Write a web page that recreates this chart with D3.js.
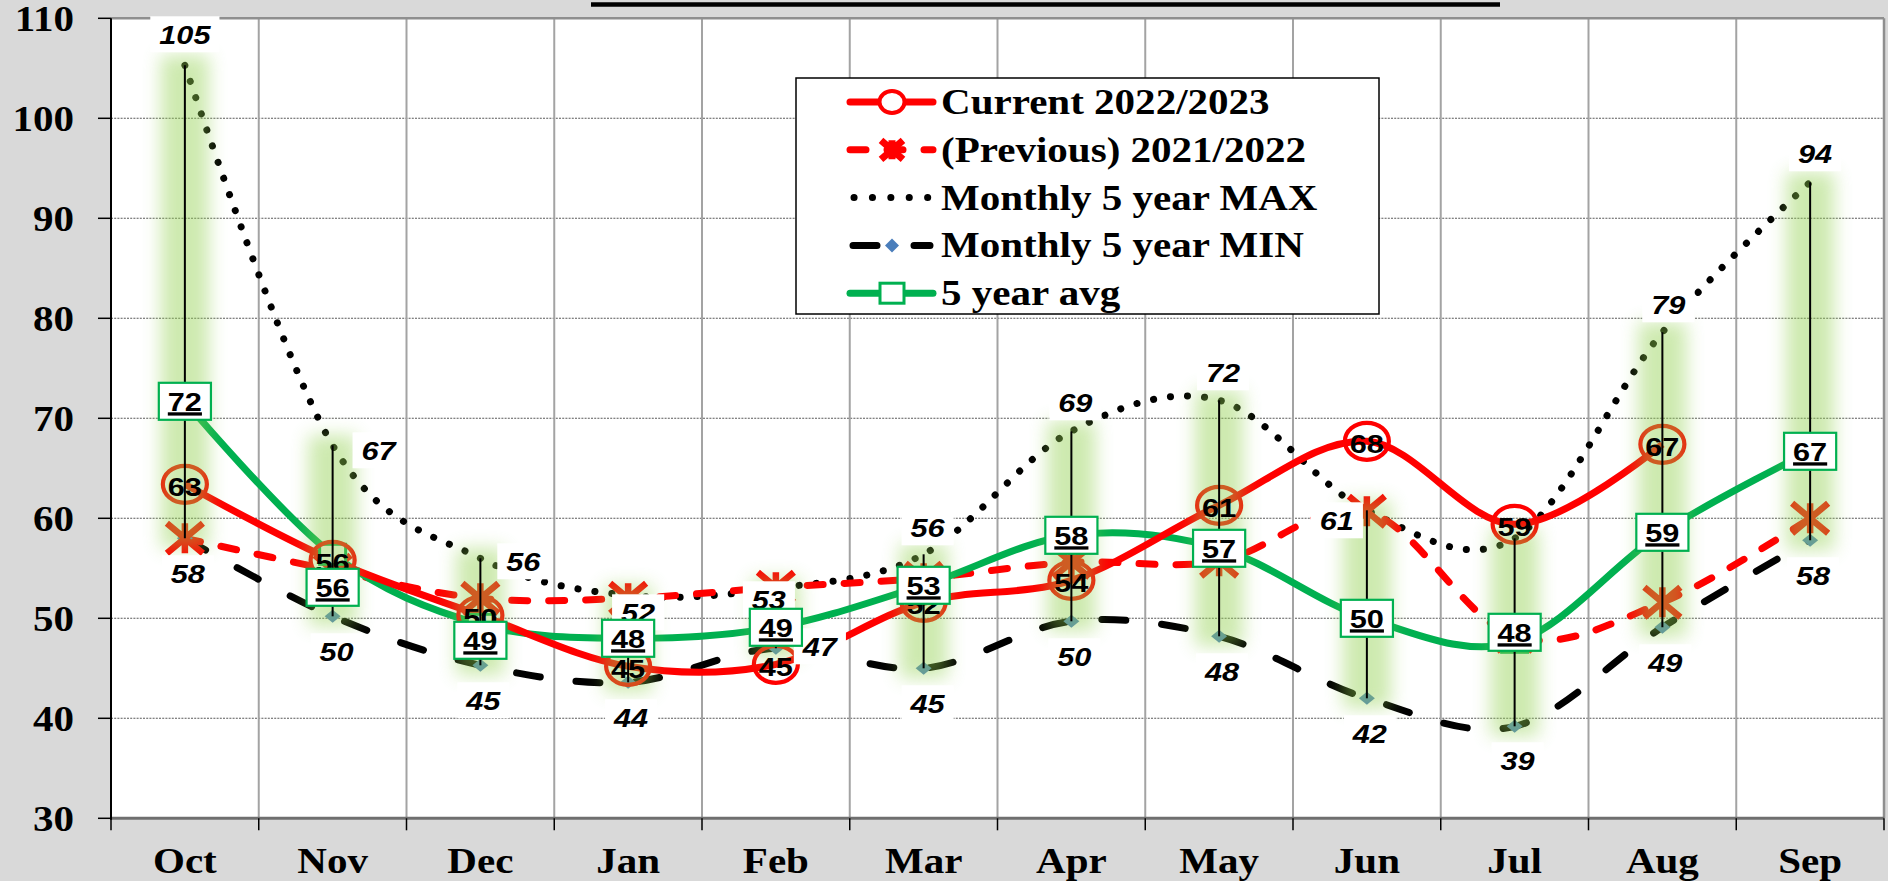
<!DOCTYPE html>
<html><head><meta charset="utf-8">
<script src="https://cdn.jsdelivr.net/npm/d3@7"></script>
<style>
html,body{margin:0;padding:0;background:#d9d9d9;overflow:hidden;}
svg{display:block;}
</style></head><body>
<svg id="chart" width="1888" height="881"></svg>
<script>
// ---------------- data ----------------
const months   = ["Oct","Nov","Dec","Jan","Feb","Mar","Apr","May","Jun","Jul","Aug","Sep"];
const current  = [63.4,55.8,50.3,45.2,45.4,51.6,53.8,61.3,67.7,59.4,67.4,null];
const previous = [58.0,54.8,52.0,52.0,53.1,54.0,55.6,55.7,60.7,48.2,51.6,60.0];
const max5     = [105.3,67.3,56.0,52.3,53.0,56.4,68.7,71.8,60.8,58.0,78.6,93.6];
const min5     = [58.0,50.2,45.3,43.6,47.0,45.0,49.7,48.2,42.0,39.2,49.1,57.8];
const avg5     = [71.7,56.4,49.4,48.0,49.1,53.3,58.3,57.0,50.0,47.6,58.6,66.7];
const yTicks   = [30,40,50,60,70,80,90,100,110];
const legendNames = ["Current 2022/2023","(Previous) 2021/2022","Monthly 5 year MAX","Monthly 5 year MIN","5 year avg"];

// ---------------- label placement (layout, not data) ----------------
const maxLabelOffset = [[0,-31],[46,5],[43,3],[10,17],[-7,11],[4,-27],[4,-29],[4,-28],[-30,10],null,[6,-28],[5,-29]];
const minLabelOffset = [[3,35],[4,35],[3,35],[3,35],[44,-2],[4,35],[3,35],[3,35],[3,35],[3,34],[3,35],[3,35]];
const avgLabelOffset = [0,33,16,0,0,0,0,0,0,-10,0,0];

// ---------------- setup ----------------
const W = 1888, H = 881;
const plot = {left:111, right:1884, top:18.3, bottom:818.3};
const svg = d3.select("#chart");
const SERIF = "'Liberation Serif','Times New Roman',serif";
const SANS = "'Liberation Sans',Arial,sans-serif";
const SX = 1.14;   // horizontal stretch of serif text
const SL = 1.18;   // horizontal stretch of label text

const x = d3.scaleBand().domain(months).range([plot.left, plot.right]).padding(0);
const cx = m => x(m) + x.bandwidth()/2;
const y = d3.scaleLinear().domain([30,110]).range([plot.bottom, plot.top]);

const defs = svg.append("defs");
defs.append("filter").attr("id","glow").attr("filterUnits","userSpaceOnUse")
  .attr("x",0).attr("y",0).attr("width",W).attr("height",H)
  .append("feGaussianBlur").attr("stdDeviation",9);

svg.append("rect").attr("width",W).attr("height",H).attr("fill","#d9d9d9");
svg.append("rect").attr("x",plot.left).attr("y",plot.top)
  .attr("width",plot.right-plot.left).attr("height",plot.bottom-plot.top).attr("fill","#ffffff");

// title underline (title text itself is cropped off the top of the picture)
svg.append("line").attr("x1",591).attr("x2",1500).attr("y1",4.5).attr("y2",4.5)
  .attr("stroke","#000").attr("stroke-width",4.5);

// grid
const grid = svg.append("g");
grid.selectAll(".hg").data(yTicks.filter(t => t>30 && t<110)).join("line")
  .attr("x1",plot.left).attr("x2",plot.right).attr("y1",d=>y(d)).attr("y2",d=>y(d))
  .attr("stroke","#5a5a5a").attr("stroke-width",1.1).attr("stroke-dasharray","2 1.2");
grid.selectAll(".vg").data(months.slice(1)).join("line")
  .attr("x1",d=>x(d)).attr("x2",d=>x(d)).attr("y1",plot.top).attr("y2",plot.bottom)
  .attr("stroke","#a3a3a3").attr("stroke-width",2);
grid.append("line").attr("x1",plot.left).attr("x2",plot.right).attr("y1",plot.top).attr("y2",plot.top)
  .attr("stroke","#8f8f8f").attr("stroke-width",2.5);
grid.append("line").attr("x1",plot.right).attr("x2",plot.right).attr("y1",plot.top).attr("y2",plot.bottom)
  .attr("stroke","#8f8f8f").attr("stroke-width",2.5);

// axes
const axG = svg.append("g");
axG.append("line").attr("x1",plot.left).attr("x2",plot.right).attr("y1",plot.bottom).attr("y2",plot.bottom)
  .attr("stroke","#6f6f6f").attr("stroke-width",3);
axG.append("line").attr("x1",plot.left).attr("x2",plot.left).attr("y1",plot.top).attr("y2",plot.bottom+1.5)
  .attr("stroke","#000").attr("stroke-width",2);
axG.selectAll(".yt").data(yTicks).join("line")
  .attr("x1",98).attr("x2",plot.left).attr("y1",d=>y(d)).attr("y2",d=>y(d))
  .attr("stroke","#000").attr("stroke-width",1.5);
axG.selectAll(".ytl").data(yTicks).join("text")
  .attr("transform",d=>`translate(74,${y(d)}) scale(${SX},1)`)
  .attr("text-anchor","end").attr("dy","0.34em")
  .attr("font-family",SERIF).attr("font-weight","bold").attr("font-size",36).attr("fill","#000")
  .text(d=>d);
const xTickPos = months.map(m => x(m)).concat([plot.right]);
axG.selectAll(".xt").data(xTickPos).join("line")
  .attr("x1",d=>d).attr("x2",d=>d).attr("y1",plot.bottom).attr("y2",plot.bottom+12)
  .attr("stroke","#000").attr("stroke-width",1.5);
axG.selectAll(".xtl").data(months).join("text")
  .attr("transform",d=>`translate(${cx(d)},873) scale(${SX},1)`)
  .attr("text-anchor","middle")
  .attr("font-family",SERIF).attr("font-weight","bold").attr("font-size",36).attr("fill","#000")
  .text(d=>d);

// ---------------- series lines ----------------
const curve = d3.curveCardinal.tension(0);
const lineGen = arr => d3.line().defined((d,i)=>arr[i]!=null)
  .x((d,i)=>cx(months[i])).y((d,i)=>y(arr[i])).curve(curve)(arr);

const lines = svg.append("g").attr("fill","none");
lines.append("path").attr("d",lineGen(max5)).attr("stroke","#000").attr("stroke-width",7)
  .attr("stroke-linecap","round").attr("stroke-dasharray","0.1 17");
lines.append("path").attr("d",lineGen(min5)).attr("stroke","#000").attr("stroke-width",7)
  .attr("stroke-linecap","round").attr("stroke-dasharray","24 36");
lines.append("path").attr("d",lineGen(previous)).attr("stroke","#ff0000").attr("stroke-width",7)
  .attr("stroke-linecap","round").attr("stroke-dasharray","16 21");
lines.append("path").attr("d",lineGen(avg5)).attr("stroke","#00b050").attr("stroke-width",7);
lines.append("path").attr("d",lineGen(current)).attr("stroke","#ff0000").attr("stroke-width",7);

// ---------------- markers ----------------
const mk = svg.append("g");
const diamond = "M0,-6.5 L8,0 L0,6.5 L-8,0 Z";
const star = (hx,hy) => `M${-hx},${-hy} L${hx},${hy} M${-hx},${hy} L${hx},${-hy} M0,${-hy} L0,${hy}`;
mk.selectAll(".mn").data(months).join("path")
  .attr("transform",(m,i)=>`translate(${cx(m)},${y(min5[i])})`)
  .attr("d",diamond).attr("fill","#4f81bd");
mk.selectAll(".pv").data(months).join("path")
  .attr("transform",(m,i)=>`translate(${cx(m)},${y(previous[i])})`)
  .attr("d",star(18,15)).attr("fill","none").attr("stroke","#ff0000").attr("stroke-width",6.5);
mk.selectAll(".av").data(months).join("rect")
  .attr("x",(m)=>cx(m)-13).attr("y",(m,i)=>y(avg5[i])-10).attr("width",26).attr("height",20)
  .attr("fill","#fff").attr("stroke","#00b050").attr("stroke-width",3);
mk.selectAll(".cu").data(months.filter((m,i)=>current[i]!=null)).join("ellipse")
  .attr("cx",m=>cx(m)).attr("cy",(m)=>y(current[months.indexOf(m)]))
  .attr("rx",22).attr("ry",18.5).attr("fill","none").attr("stroke","#ff0000").attr("stroke-width",4.2);

// ---------------- glow & high-low lines ----------------
svg.append("g").attr("filter","url(#glow)").attr("opacity",0.45)
  .selectAll("line").data(months).join("line")
  .attr("x1",m=>cx(m)).attr("x2",m=>cx(m))
  .attr("y1",(m,i)=>y(max5[i])-10).attr("y2",(m,i)=>y(min5[i])+10)
  .attr("stroke","#92d050").attr("stroke-width",48);
svg.append("g").selectAll("line").data(months).join("line")
  .attr("x1",m=>cx(m)).attr("x2",m=>cx(m))
  .attr("y1",(m,i)=>y(max5[i])).attr("y2",(m,i)=>y(min5[i]))
  .attr("stroke","#000").attr("stroke-width",2);

// ---------------- data labels ----------------
const labels = svg.append("g");
function addLabel(px, py, txt, kind) {
  const g = labels.append("g").attr("transform",`translate(${px},${py})`);
  const r = g.append("rect");
  const t = g.append("text").text(txt)
    .attr("text-anchor","middle").attr("dy","0.36em").attr("transform",`scale(${SL},1)`)
    .attr("font-family",SANS).attr("font-weight","bold").attr("font-size",26).attr("fill","#000")
    .attr("font-style", kind==="mm" ? "italic" : "normal");
  const w = t.node().getComputedTextLength()*SL;
  if (kind==="mm") {
    r.attr("x",-w/2-9).attr("y",-18).attr("width",w+18).attr("height",36).attr("fill","#fff");
  } else if (kind==="avg") {
    r.attr("x",-w/2-9).attr("y",-18.5).attr("width",w+18).attr("height",37)
      .attr("fill","#fff").attr("stroke","#00b050").attr("stroke-width",2.2);
    g.append("rect").attr("x",-w/2).attr("y",11).attr("width",w).attr("height",3.3).attr("fill","#000");
  } else {
    r.remove();
  }
}
const fmt = d3.format(".0f");
months.forEach((m,i)=>{
  if (maxLabelOffset[i]) addLabel(cx(m)+maxLabelOffset[i][0], y(max5[i])+maxLabelOffset[i][1], fmt(max5[i]), "mm");
  addLabel(cx(m)+minLabelOffset[i][0], y(min5[i])+minLabelOffset[i][1], fmt(min5[i]), "mm");
});
months.forEach((m,i)=>{
  if (current[i]!=null) addLabel(cx(m), y(current[i])+2, fmt(current[i]), "cur");
});
months.forEach((m,i)=>{
  addLabel(cx(m), y(avg5[i])+avgLabelOffset[i], fmt(avg5[i]), "avg");
});

// ---------------- legend ----------------
const lg = svg.append("g");
lg.append("rect").attr("x",796).attr("y",78).attr("width",583).attr("height",236)
  .attr("fill","#fff").attr("stroke","#000").attr("stroke-width",1.5);
const rowY = i => 102 + i*47.8;
const lx1 = 850, lx2 = 933, lmx = 892;
lg.append("line").attr("x1",lx1).attr("x2",lx2).attr("y1",rowY(0)).attr("y2",rowY(0))
  .attr("stroke","#ff0000").attr("stroke-width",7).attr("stroke-linecap","round");
lg.append("ellipse").attr("cx",lmx).attr("cy",rowY(0)).attr("rx",12.5).attr("ry",11)
  .attr("fill","#fff").attr("stroke","#ff0000").attr("stroke-width",4);
lg.append("line").attr("x1",lx1).attr("x2",lx2).attr("y1",rowY(1)).attr("y2",rowY(1))
  .attr("stroke","#ff0000").attr("stroke-width",7).attr("stroke-linecap","round").attr("stroke-dasharray","16 21");
lg.append("path").attr("transform",`translate(${lmx},${rowY(1)})`).attr("d",star(11,9.5))
  .attr("stroke","#ff0000").attr("stroke-width",7).attr("fill","none");
lg.append("line").attr("x1",lx1+4).attr("x2",lx2).attr("y1",rowY(2)).attr("y2",rowY(2))
  .attr("stroke","#000").attr("stroke-width",7).attr("stroke-linecap","round").attr("stroke-dasharray","0.1 18.3");
lg.append("line").attr("x1",lx1+3).attr("x2",lx2-3).attr("y1",rowY(3)).attr("y2",rowY(3))
  .attr("stroke","#000").attr("stroke-width",7).attr("stroke-linecap","round").attr("stroke-dasharray","24 37");
lg.append("path").attr("transform",`translate(${lmx},${rowY(3)})`).attr("d","M0,-7 L7,0 L0,7 L-7,0 Z")
  .attr("fill","#4a7ebb");
lg.append("line").attr("x1",lx1).attr("x2",lx2).attr("y1",rowY(4)).attr("y2",rowY(4))
  .attr("stroke","#00b050").attr("stroke-width",7).attr("stroke-linecap","round");
lg.append("rect").attr("x",lmx-12).attr("y",rowY(4)-10).attr("width",24).attr("height",20)
  .attr("fill","#fff").attr("stroke","#00b050").attr("stroke-width",3);
lg.selectAll(".lt").data(legendNames).join("text")
  .attr("transform",(d,i)=>`translate(941,${rowY(i)+12}) scale(${SX},1)`)
  .attr("font-family",SERIF).attr("font-weight","bold").attr("font-size",36).attr("fill","#000")
  .text(d=>d);
</script>
</body></html>
